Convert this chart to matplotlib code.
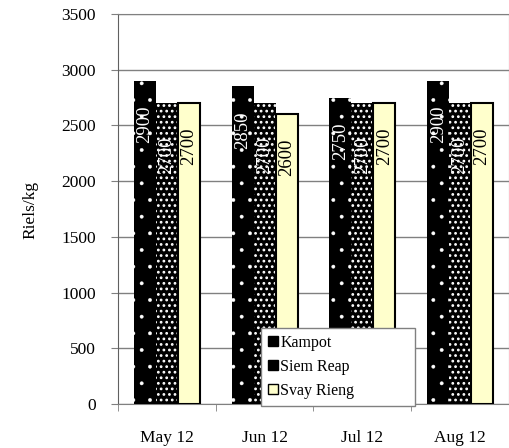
import numpy as np
import matplotlib.pyplot as plt

# prix mensuels (Riels/kg)
months = ['May 12', 'Jun 12', 'Jul 12', 'Aug 12']
kampot = [2900, 2850, 2750, 2900]
siem_reap = [2700, 2700, 2700, 2700]
svay_rieng = [2700, 2600, 2700, 2700]

plt.rcParams['font.family'] = ['Liberation Serif', 'DejaVu Serif']
plt.rcParams['hatch.linewidth'] = 0.3

fig = plt.figure(figsize=(5.10, 4.48), dpi=100)
ax = fig.add_axes([118 / 510, 44 / 448, 391 / 510, 390 / 448])

x = np.arange(len(months))
w = 0.225

b1 = ax.bar(x - w, kampot, w, color='black', edgecolor='white', linewidth=0,
            hatch='.', label='Kampot', zorder=3)
b2 = ax.bar(x, siem_reap, w, color='black', edgecolor='white', linewidth=0,
            hatch='...', label='Siem Reap', zorder=3)
b3 = ax.bar(x + w, svay_rieng, w, color='#FFFFCC', edgecolor='black',
            linewidth=1.5, label='Svay Rieng', zorder=3)
for r in b2:
    if hasattr(r, 'set_hatch_linewidth'):
        r.set_hatch_linewidth(1.2)

# étiquettes de valeurs dans les barres
for bars, col, off in [(b1, 'white', 25), (b2, 'white', 33), (b3, 'black', 24)]:
    for r in bars:
        h = r.get_height()
        ax.annotate(f'{int(h)}', (r.get_x() + r.get_width() / 2, h),
                    xytext=(0, -off * 0.72), textcoords='offset points',
                    rotation=90, ha='center', va='top', color=col,
                    fontsize=13.5, zorder=5)

ax.set_ylim(0, 3500)
ax.set_xlim(-0.5, 3.5)
ax.set_yticks(range(0, 3501, 500))
ax.yaxis.grid(True, color='#808080', linewidth=1)
ax.set_axisbelow(True)

ax.set_xticks(x)
ax.set_xticklabels(months)
ax.set_xticks(np.arange(-0.5, 4, 1), minor=True)
ax.tick_params(axis='x', which='major', length=0, pad=19, labelsize=12.5)
ax.tick_params(axis='x', which='minor', length=5, color='#808080')
ax.tick_params(axis='y', length=5, pad=11, labelsize=12.5, color='#808080')

for s in ['top', 'right', 'bottom']:
    ax.spines[s].set_color('#808080')
ax.spines['left'].set_color('#606060')

fig.text(30 / 510, 1 - 210 / 448, 'Riels/kg', rotation=90, ha='center',
         va='center', fontsize=12.5)

leg = ax.legend(loc='lower left',
                bbox_to_anchor=(261 / 510, 42 / 448, 154 / 510, 78 / 448),
                bbox_transform=fig.transFigure, mode='expand', borderaxespad=0,
                fancybox=False, framealpha=1, edgecolor='#808080',
                fontsize=11.5, handlelength=0.6, handleheight=0.6,
                handletextpad=0.15, labelspacing=0.5, borderpad=0.45)
leg.get_frame().set_linewidth(1)
leg.set_zorder(10)
for h in leg.legend_handles:
    h.set_edgecolor('black')
    h.set_linewidth(1)

plt.savefig('out.png', dpi=100)
